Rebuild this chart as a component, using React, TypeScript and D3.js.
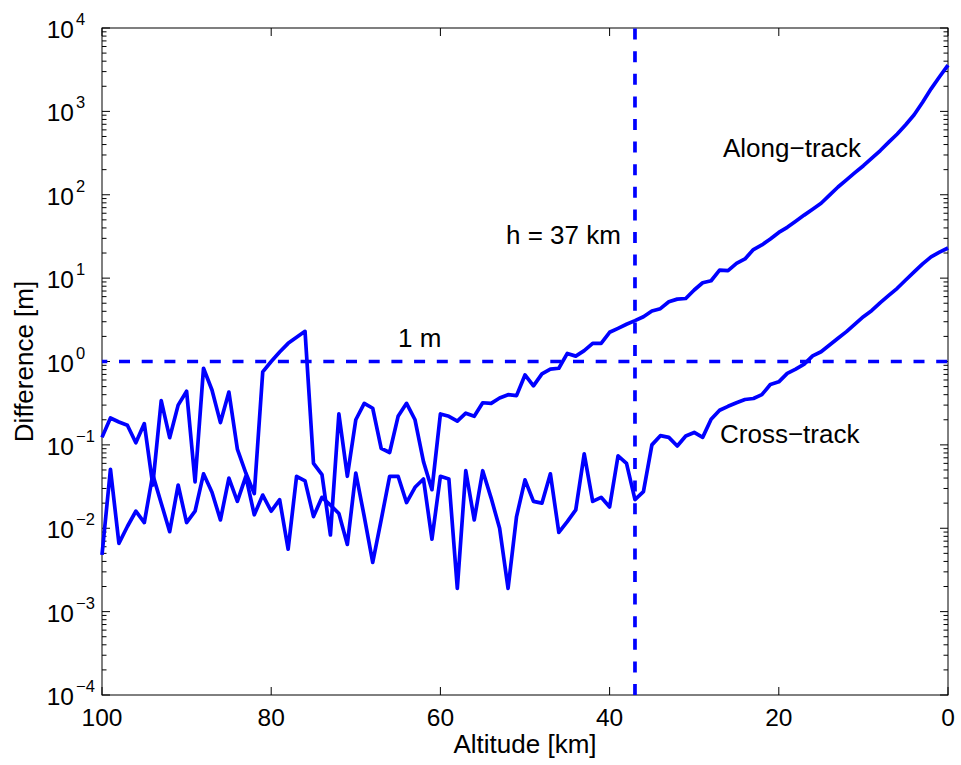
import React from 'react';
import * as d3 from 'd3';

const altitudeKm = [
  100, 99, 98, 97, 96, 95, 94, 93, 92, 91, 90, 89, 88, 87, 86, 85, 84, 83, 82, 81,
  80, 79, 78, 77, 76, 75, 74, 73, 72, 71, 70, 69, 68, 67, 66, 65, 64, 63, 62, 61,
  60, 59, 58, 57, 56, 55, 54, 53, 52, 51, 50, 49, 48, 47, 46, 45, 44, 43, 42, 41,
  40, 39, 38, 37, 36, 35, 34, 33, 32, 31, 30, 29, 28, 27, 26, 25, 24, 23, 22, 21,
  20, 19, 18, 17, 16, 15, 14, 13, 12, 11, 10, 9, 8, 7, 6, 5, 4, 3, 2, 1, 0,
];

const alongTrack = [
  0.123, 0.21, 0.188, 0.172, 0.106, 0.18, 0.033, 0.34, 0.122, 0.3, 0.44, 0.036, 0.83, 0.455, 0.185, 0.43, 0.089, 0.046, 0.026, 0.75,
  1.0, 1.3, 1.65, 1.95, 2.3, 0.06, 0.044, 0.0083, 0.235, 0.042, 0.2, 0.315, 0.275, 0.091, 0.081, 0.22, 0.315, 0.2, 0.063, 0.029,
  0.235, 0.22, 0.193, 0.24, 0.22, 0.32, 0.315, 0.365, 0.4, 0.39, 0.69, 0.51, 0.71, 0.81, 0.83, 1.25, 1.16, 1.35, 1.65, 1.65,
  2.24, 2.5, 2.8, 3.09, 3.44, 4.03, 4.3, 5.2, 5.6, 5.7, 7.2, 8.8, 9.3, 12.5, 12.3, 15, 17, 22, 25, 29.4,
  35.3, 40.7, 48, 57, 67, 79, 99, 124, 151, 184, 223, 275, 339, 427, 535, 692, 912, 1288, 1862, 2600, 3590,
];

const crossTrack = [
  0.0048, 0.051, 0.0066, 0.0105, 0.016, 0.0117, 0.044, 0.02, 0.0091, 0.033, 0.0117, 0.016, 0.045, 0.027, 0.0126, 0.04, 0.021, 0.042, 0.0145, 0.025,
  0.016, 0.022, 0.0056, 0.042, 0.037, 0.0138, 0.0235, 0.019, 0.015, 0.0064, 0.046, 0.0138, 0.0039, 0.0126, 0.042, 0.042, 0.0203, 0.031, 0.039, 0.0074,
  0.042, 0.039, 0.0019, 0.049, 0.0126, 0.049, 0.023, 0.01, 0.0019, 0.0138, 0.038, 0.021, 0.02, 0.045, 0.0089, 0.012, 0.0166, 0.078, 0.021, 0.0235,
  0.018, 0.074, 0.06, 0.022, 0.0275, 0.1, 0.129, 0.123, 0.097, 0.128, 0.141, 0.123, 0.203, 0.26, 0.29, 0.32, 0.35, 0.36, 0.4, 0.53,
  0.57, 0.72, 0.81, 0.93, 1.17, 1.31, 1.58, 1.9, 2.28, 2.8, 3.45, 4.1, 5.07, 6.2, 7.55, 9.5, 11.9, 14.8, 18, 20.5, 23,
];

const xTickValues = [100, 80, 60, 40, 20, 0];
const yTickExponents = [-4, -3, -2, -1, 0, 1, 2, 3, 4];
const minorMultipliers = [2, 3, 4, 5, 6, 7, 8, 9];
const thresholdDifference = 1;
const thresholdAltitude = 37;

const FONT = '"Liberation Sans", Arial, Helvetica, sans-serif';
const BLUE = '#0000ff';

export default function App() {
  const W = 961;
  const H = 765;
  const left = 102;
  const right = 948;
  const top = 28;
  const bottom = 695;

  const x = d3.scaleLinear().domain([100, 0]).range([left, right]);
  const y = d3.scaleLog().domain([1e-4, 1e4]).range([bottom, top]);

  const line = d3
    .line<number>()
    .x((_, i) => x(altitudeKm[i]))
    .y((d) => y(d));

  const minorTicks: number[] = [];
  yTickExponents.slice(0, -1).forEach((e) => {
    minorMultipliers.forEach((m) => minorTicks.push(m * Math.pow(10, e)));
  });

  const supMinus = (e: number) => (e < 0 ? '\u2212' + Math.abs(e) : String(e));

  return (
    <svg
      width={W}
      height={H}
      style={{ position: 'absolute', left: 0, top: 0, background: '#fff' }}
      fontFamily={FONT}
    >
      <rect x={0} y={0} width={W} height={H} fill="#fff" />

      {/* axes box */}
      <rect x={left} y={top} width={right - left} height={bottom - top} fill="none" stroke="#000" strokeWidth={1} />

      {/* x ticks */}
      {xTickValues.map((v) => (
        <g key={'xt' + v}>
          <line x1={x(v)} x2={x(v)} y1={bottom} y2={bottom - 8} stroke="#000" strokeWidth={1} />
          <line x1={x(v)} x2={x(v)} y1={top} y2={top + 8} stroke="#000" strokeWidth={1} />
          <text x={x(v)} y={726} textAnchor="middle" fontSize={24.5} fill="#000">
            {v}
          </text>
        </g>
      ))}

      {/* y major ticks */}
      {yTickExponents.map((e) => {
        const yy = y(Math.pow(10, e));
        return (
          <g key={'yt' + e}>
            <line x1={left} x2={left + 8} y1={yy} y2={yy} stroke="#000" strokeWidth={1} />
            <line x1={right} x2={right - 8} y1={yy} y2={yy} stroke="#000" strokeWidth={1} />
            <text x={74} y={yy + 10} textAnchor="end" fontSize={24.5} fill="#000">
              10
            </text>
            <text x={76} y={yy - 3} textAnchor="start" fontSize={16.5} fill="#000">
              {supMinus(e)}
            </text>
          </g>
        );
      })}

      {/* y minor ticks */}
      {minorTicks.map((v, i) => (
        <g key={'ym' + i}>
          <line x1={left} x2={left + 4.5} y1={y(v)} y2={y(v)} stroke="#000" strokeWidth={1} />
          <line x1={right} x2={right - 4.5} y1={y(v)} y2={y(v)} stroke="#000" strokeWidth={1} />
        </g>
      ))}

      {/* axis labels */}
      <text x={525} y={753} textAnchor="middle" fontSize={26} fill="#000">
        Altitude [km]
      </text>
      <text transform={`translate(33, ${(top + bottom) / 2}) rotate(-90)`} textAnchor="middle" fontSize={26} fill="#000">
        Difference [m]
      </text>

      {/* reference lines */}
      <line
        x1={left}
        x2={right}
        y1={y(thresholdDifference)}
        y2={y(thresholdDifference)}
        stroke={BLUE}
        strokeWidth={3.7}
        strokeDasharray="11 11.7"
        strokeDashoffset={5.7}
      />
      <line
        x1={x(thresholdAltitude)}
        x2={x(thresholdAltitude)}
        y1={bottom}
        y2={top}
        stroke={BLUE}
        strokeWidth={3.7}
        strokeDasharray="11 11.6"
      />

      {/* data */}
      <path d={line(alongTrack) || ''} fill="none" stroke={BLUE} strokeWidth={3.7} strokeLinejoin="round" />
      <path d={line(crossTrack) || ''} fill="none" stroke={BLUE} strokeWidth={3.7} strokeLinejoin="round" />

      {/* annotations */}
      <text x={723} y={157} fontSize={26} fill="#000">Along{'\u2212'}track</text>
      <text x={720} y={443} fontSize={26} fill="#000">Cross{'\u2212'}track</text>
      <text x={506} y={244} fontSize={26} fill="#000">h = 37 km</text>
      <text x={398} y={347} fontSize={26} fill="#000">1 m</text>
    </svg>
  );
}
